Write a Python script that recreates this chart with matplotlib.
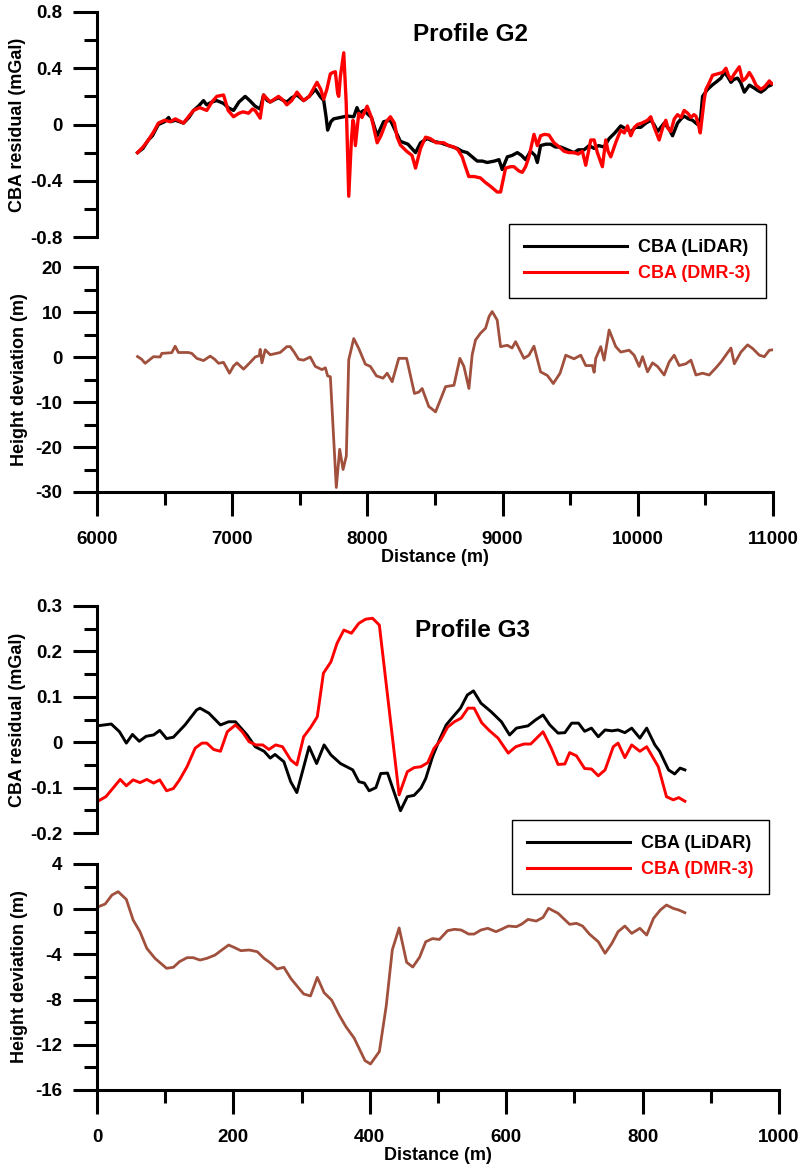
import matplotlib
matplotlib.use("Agg")
import matplotlib.pyplot as plt
from matplotlib.lines import Line2D
from matplotlib.ticker import MultipleLocator, FormatStrFormatter

plt.rcParams['font.family'] = ['Liberation Sans', 'DejaVu Sans']
plt.rcParams['font.weight'] = 'bold'
plt.rcParams['axes.unicode_minus'] = False

# ---- Profile G2 ----
g2_lidar_x = [6300, 6340, 6380, 6410, 6454, 6500, 6530, 6545, 6580, 6640, 6680, 6714, 6750, 6788,
              6810, 6850, 6886, 6936, 6970, 7010, 7050, 7096, 7130, 7170, 7207, 7232, 7260, 7281,
              7320, 7343, 7380, 7404, 7440, 7479, 7528, 7570, 7615, 7650, 7677, 7695, 7706, 7730,
              7750, 7800, 7850, 7899, 7923, 7940, 7973, 8030, 8072, 8120, 8170, 8200, 8244, 8300,
              8356, 8393, 8442, 8490, 8540, 8600, 8664, 8700, 8738, 8775, 8812, 8850, 8886, 8940,
              8973, 8997, 9035, 9070, 9109, 9140, 9170, 9207, 9240, 9257, 9281, 9320, 9355, 9390,
              9430, 9480, 9528, 9560, 9602, 9640, 9677, 9710, 9751, 9788, 9830, 9874, 9910, 9948,
              9985, 10022, 10060, 10096, 10120, 10146, 10170, 10195, 10230, 10257, 10294, 10320,
              10343, 10375, 10405, 10442, 10465, 10479, 10516, 10550, 10590, 10615, 10640, 10665,
              10689, 10710, 10738, 10760, 10788, 10810, 10825, 10860, 10890, 10911, 10940, 10960,
              10985, 11000]
g2_lidar_y = [-0.20, -0.17, -0.11, -0.08, 0.00, 0.02, 0.05, 0.02, 0.03, 0.01, 0.05, 0.10, 0.13, 0.17,
              0.14, 0.16, 0.17, 0.15, 0.12, 0.10, 0.16, 0.20, 0.17, 0.13, 0.11, 0.21, 0.17, 0.16,
              0.18, 0.19, 0.17, 0.16, 0.19, 0.21, 0.17, 0.20, 0.25, 0.20, 0.17, 0.05, -0.04, 0.02,
              0.04, 0.05, 0.06, 0.055, 0.12, 0.08, 0.10, 0.05, -0.08, 0.02, 0.03, -0.03, -0.12, -0.14,
              -0.20, -0.13, -0.10, -0.12, -0.13, -0.15, -0.17, -0.19, -0.20, -0.23, -0.26, -0.26, -0.27, -0.26,
              -0.25, -0.32, -0.23, -0.22, -0.20, -0.22, -0.25, -0.19, -0.22, -0.27, -0.15, -0.14, -0.14, -0.16,
              -0.16, -0.18, -0.20, -0.18, -0.18, -0.15, -0.17, -0.15, -0.16, -0.10, -0.06, -0.01, -0.03, -0.05,
              -0.02, -0.02, 0.01, 0.03, 0.00, -0.05, -0.02, 0.01, -0.03, -0.08, 0.01, 0.04,
              0.06, 0.04, 0.03, 0.00, 0.05, 0.20, 0.25, 0.28, 0.31, 0.33, 0.37, 0.34,
              0.30, 0.32, 0.33, 0.30, 0.23, 0.26, 0.28, 0.26, 0.24, 0.23, 0.25, 0.27,
              0.28, 0.29]

g2_dmr_x = [6300, 6340, 6380, 6420, 6454, 6500, 6541, 6580, 6640, 6680, 6714, 6760, 6812, 6850,
            6886, 6936, 6970, 7010, 7050, 7080, 7121, 7150, 7170, 7207, 7232, 7281, 7343, 7380,
            7404, 7440, 7479, 7528, 7570, 7627, 7655, 7677, 7700, 7726, 7745, 7763, 7780, 7788,
            7800, 7825, 7843, 7862, 7881, 7893, 7899, 7911, 7936, 7960, 7998, 8030, 8072, 8100,
            8140, 8170, 8200, 8220, 8244, 8290, 8330, 8356, 8393, 8430, 8465, 8509, 8565, 8600,
            8640, 8670, 8701, 8725, 8750, 8790, 8836, 8870, 8911, 8960, 8985, 9022, 9060, 9084,
            9120, 9146, 9170, 9195, 9232, 9257, 9281, 9310, 9343, 9380, 9420, 9454, 9490, 9528,
            9560, 9590, 9615, 9652, 9677, 9701, 9738, 9763, 9780, 9800, 9840, 9874, 9900, 9924,
            9948, 9975, 9998, 10030, 10072, 10096, 10121, 10158, 10185, 10207, 10225, 10244, 10270,
            10294, 10320, 10343, 10370, 10393, 10415, 10430, 10448, 10462, 10491, 10504, 10530,
            10553, 10590, 10627, 10652, 10670, 10689, 10714, 10751, 10775, 10800, 10825, 10850,
            10874, 10911, 10940, 10973, 10990, 11000]
g2_dmr_y = [-0.20, -0.16, -0.11, -0.05, 0.01, 0.03, 0.02, 0.04, 0.01, 0.06, 0.10, 0.12, 0.10, 0.16,
            0.20, 0.21, 0.10, 0.055, 0.08, 0.09, 0.08, 0.11, 0.10, 0.045, 0.21, 0.16, 0.20, 0.17,
            0.14, 0.17, 0.23, 0.17, 0.20, 0.30, 0.25, 0.18, 0.25, 0.36, 0.37, 0.375, 0.22, 0.20,
            0.34, 0.51, 0.16, -0.51, -0.12, 0.03, 0.01, -0.15, 0.08, 0.05, 0.13, 0.05, -0.13, -0.08,
            0.02, 0.055, 0.01, -0.09, -0.146, -0.19, -0.22, -0.31, -0.17, -0.09, -0.10, -0.13, -0.13, -0.15,
            -0.16, -0.18, -0.23, -0.30, -0.37, -0.37, -0.38, -0.41, -0.44, -0.48, -0.48, -0.31, -0.30, -0.30,
            -0.33, -0.34, -0.30, -0.23, -0.07, -0.15, -0.08, -0.07, -0.075, -0.13, -0.16, -0.19, -0.20, -0.20,
            -0.21, -0.19, -0.29, -0.11, -0.11, -0.20, -0.30, -0.11, -0.19, -0.23, -0.12, -0.04, -0.06, -0.01,
            -0.08, -0.02, 0.00, 0.01, 0.03, 0.055, -0.02, -0.11, -0.02, 0.03, -0.03, -0.05, 0.04,
            0.07, 0.05, 0.10, 0.08, 0.05, 0.07, 0.06, 0.00, -0.06, 0.175, 0.25, 0.30,
            0.35, 0.36, 0.37, 0.40, 0.35, 0.32, 0.36, 0.41, 0.31, 0.33, 0.37, 0.33,
            0.28, 0.25, 0.27, 0.31, 0.29, 0.29]

g2_height_x = [6300, 6330, 6356, 6390, 6417, 6467, 6479, 6553, 6578, 6602, 6676, 6701, 6738, 6788,
               6837, 6870, 6899, 6936, 6960, 6980, 7010, 7035, 7084, 7133, 7170, 7200, 7207, 7220,
               7244, 7281, 7355, 7404, 7429, 7460, 7491, 7528, 7577, 7615, 7664, 7689, 7706, 7726,
               7770, 7795, 7820, 7844, 7862, 7899, 7936, 7985, 8022, 8067, 8116, 8146, 8183, 8232,
               8290, 8348, 8380, 8405, 8454, 8480, 8504, 8540, 8578, 8615, 8640, 8684, 8714, 8751,
               8775, 8800, 8837, 8874, 8900, 8923, 8960, 8985, 9035, 9070, 9096, 9158, 9195, 9232,
               9281, 9331, 9375, 9425, 9467, 9528, 9578, 9615, 9664, 9677, 9689, 9726, 9751, 9788,
               9837, 9874, 9936, 9973, 10010, 10035, 10072, 10109, 10146, 10195, 10232, 10269, 10306,
               10356, 10393, 10430, 10479, 10528, 10578, 10615, 10689, 10714, 10763, 10812, 10849,
               10899, 10936, 10973, 11000]
g2_height_y = [0.1, -0.5, -1.4, -0.6, 0.07, 0.0, 0.8, 0.96, 2.4, 1.0, 1.0, 0.8, -0.3, -0.8,
               0.2, -0.5, -1.4, -1.2, -2.5, -3.6, -2.0, -1.3, -2.7, -1.2, 0.0, 0.3, 1.7, -1.3,
               1.6, 0.5, 1.0, 2.3, 2.3, 1.0, -0.5, -0.7, 0.0, -2.1, -2.8, -2.4, -4.2, -4.4,
               -29.0, -20.5, -25.0, -22.0, -0.6, 4.1, 1.9, -1.6, -2.1, -4.2, -4.7, -3.6, -5.5, -0.3,
               -0.3, -8.1, -7.8, -7.0, -11.0, -11.6, -12.2, -9.5, -6.6, -6.4, -6.3, -0.3, -2.1, -7.0,
               0.5, 3.8, 5.3, 6.4, 9.0, 10.1, 8.2, 2.3, 2.6, 2.0, 3.4, -0.3, 0.4, 2.4,
               -3.3, -4.1, -5.9, -3.6, 0.4, -0.4, 0.4, -1.9, -1.9, -3.4, -0.3, 2.3, -0.7, 6.0,
               2.3, 1.1, 1.5, 0.4, -2.1, 0.07, -3.3, -1.3, -2.1, -4.0, -1.1, 0.4, -1.9,
               -1.5, -0.7, -4.0, -3.6, -4.0, -2.4, -1.1, 2.0, -1.5, 1.1, 2.7, 1.9,
               0.4, 0.07, 1.5, 1.6]

# ---- Profile G3 ----
g3_lidar_x = [0, 21, 33, 43, 52, 62, 72, 83, 92, 102, 112, 129, 146, 151, 164, 181, 193, 203, 220,
              232, 245, 254, 261, 274, 284, 293, 311, 322, 333, 343, 357, 375, 384, 392, 399, 409,
              416, 426, 445, 455, 465, 475, 482, 492, 502, 512, 522, 533, 543, 552, 563, 578, 593,
              605, 615, 625, 632, 643, 654, 664, 676, 686, 696, 706, 715, 725, 735, 745, 755, 764,
              774, 784, 796, 806, 818, 825, 838, 847, 855, 862]
g3_lidar_y = [0.036, 0.04, 0.023, -0.002, 0.017, 0.002, 0.013, 0.016, 0.026, 0.008, 0.011, 0.038, 0.071,
              0.075, 0.064, 0.038, 0.045, 0.045, 0.016, -0.01, -0.02, -0.035, -0.027, -0.043, -0.087,
              -0.111, -0.01, -0.047, -0.006, -0.028, -0.047, -0.061, -0.087, -0.09, -0.107, -0.10,
              -0.069, -0.068, -0.151, -0.12, -0.117, -0.101, -0.08, -0.032, 0.005, 0.038, 0.056, 0.075,
              0.104, 0.113, 0.086, 0.067, 0.045, 0.016, 0.031, 0.034, 0.036, 0.049, 0.06, 0.038, 0.02,
              0.021, 0.042, 0.042, 0.024, 0.031, 0.012, 0.027, 0.025, 0.027, 0.021, 0.031, 0.009,
              0.031, -0.006, -0.02, -0.061, -0.07, -0.057, -0.061]

g3_dmr_x = [0, 13, 23, 34, 43, 53, 63, 73, 83, 92, 102, 112, 121, 132, 144, 154, 161, 171, 181, 191,
            203, 213, 223, 233, 243, 252, 262, 272, 284, 293, 303, 313, 323, 332, 343, 352, 362, 373,
            384, 394, 404, 414, 443, 455, 465, 475, 485, 494, 504, 514, 524, 534, 544, 553, 564, 575,
            588, 603, 614, 626, 636, 654, 666, 676, 686, 693, 703, 715, 725, 735, 745, 757, 764, 774,
            784, 796, 806, 823, 835, 845, 853, 862]
g3_dmr_y = [-0.131, -0.12, -0.102, -0.082, -0.096, -0.083, -0.089, -0.082, -0.09, -0.083, -0.107, -0.102,
            -0.083, -0.054, -0.013, -0.002, -0.002, -0.016, -0.02, 0.023, 0.038, 0.023, 0.001, -0.006,
            -0.006, -0.016, -0.006, -0.01, -0.039, -0.05, 0.012, 0.032, 0.056, 0.152, 0.177, 0.218,
            0.247, 0.24, 0.262, 0.271, 0.273, 0.258, -0.116, -0.065, -0.056, -0.054, -0.045, -0.014,
            0.005, 0.033, 0.045, 0.053, 0.075, 0.075, 0.043, 0.026, 0.009, -0.024, -0.01, -0.004,
            -0.004, 0.023, -0.013, -0.049, -0.048, -0.023, -0.03, -0.058, -0.059, -0.074, -0.061, -0.01,
            -0.002, -0.034, -0.006, -0.02, -0.01, -0.054, -0.12, -0.127, -0.122, -0.13]

g3_height_x = [0, 12, 22, 31, 43, 53, 63, 73, 85, 102, 112, 121, 132, 141, 151, 161, 173, 183, 193,
               201, 211, 223, 235, 245, 255, 264, 274, 284, 294, 303, 313, 323, 333, 344, 355, 365,
               377, 393, 401, 414, 424, 433, 443, 454, 463, 473, 482, 492, 502, 514, 524, 534, 545,
               553, 563, 573, 585, 593, 603, 615, 623, 632, 644, 654, 662, 676, 693, 703, 712, 722,
               735, 745, 755, 764, 774, 784, 796, 806, 816, 826, 835, 845, 853, 862]
g3_height_y = [0.17, 0.46, 1.26, 1.55, 0.87, -0.96, -1.99, -3.46, -4.35, -5.23, -5.14, -4.64, -4.29, -4.29,
               -4.5, -4.35, -4.06, -3.61, -3.17, -3.38, -3.67, -3.61, -3.76, -4.35, -4.79, -5.29, -5.14,
               -6.11, -6.85, -7.5, -7.68, -6.03, -7.39, -8.04, -9.36, -10.4, -11.4, -13.4, -13.7, -12.6,
               -8.6, -3.6, -1.66, -4.7, -5.12, -4.25, -2.88, -2.6, -2.68, -1.9, -1.78, -1.84, -2.2,
               -2.2, -1.84, -1.69, -1.99, -1.78, -1.49, -1.55, -1.31, -0.9, -1.05, -0.73, 0.08, -0.36,
               -1.34, -1.25, -1.49, -2.2, -2.88, -3.9, -3.02, -1.99, -1.49, -2.14, -1.69, -2.29, -0.81,
               -0.07, 0.37, 0.07, -0.07, -0.31]

brown = '#A0503C'
W, H = 802, 1168


def add_axes(fig, x0, x1, y0, y1):
    return fig.add_axes([x0 / W, 1 - y1 / H, (x1 - x0) / W, (y1 - y0) / H])


def style(ax, xmaj, xmin, ymaj, ymin, show_x):
    for s in ['top', 'right']:
        ax.spines[s].set_visible(False)
    for s in ['left', 'bottom']:
        ax.spines[s].set_linewidth(2.2)
    ax.xaxis.set_major_locator(MultipleLocator(xmaj))
    ax.xaxis.set_minor_locator(MultipleLocator(xmin))
    ax.yaxis.set_major_locator(MultipleLocator(ymaj))
    ax.yaxis.set_minor_locator(MultipleLocator(ymin))
    ax.yaxis.set_major_formatter(FormatStrFormatter('%g'))
    ax.xaxis.set_major_formatter(FormatStrFormatter('%g'))
    ax.tick_params(which='major', length=17, width=2.2, labelsize=13.5)
    ax.tick_params(which='minor', length=9.5, width=2.2)
    ax.tick_params(axis='y', which='major', pad=8)
    ax.tick_params(axis='x', which='major', pad=11)
    if not show_x:
        ax.spines['bottom'].set_visible(False)
        ax.tick_params(axis='x', which='both', bottom=False, labelbottom=False)
    ax.patch.set_visible(False)


fig = plt.figure(figsize=(W / 100, H / 100), dpi=100)

# G2 residual
ax1 = add_axes(fig, 97, 773, 12, 237)
ax1.plot(g2_lidar_x, g2_lidar_y, color='black', lw=2.4)
ax1.plot(g2_dmr_x, g2_dmr_y, color='red', lw=2.4)
ax1.set_xlim(6000, 11000)
ax1.set_ylim(-0.8, 0.8)
style(ax1, 1000, 500, 0.4, 0.2, False)
ax1.set_ylabel('CBA residual (mGal)', fontsize=13, fontweight='bold', va='center')
ax1.yaxis.set_label_coords((18 - 97) / 676, 0.5)
ax1.text(0.552, 0.898, 'Profile G2', transform=ax1.transAxes, ha='center', va='center',
         fontsize=17.5, fontweight='bold')

# G2 height deviation
ax2 = add_axes(fig, 97, 773, 267, 492)
ax2.plot(g2_height_x, g2_height_y, color=brown, lw=2.0)
ax2.set_xlim(6000, 11000)
ax2.set_ylim(-30, 20)
style(ax2, 1000, 500, 10, 5, True)
ax2.set_ylabel('Height deviation (m)', fontsize=13, fontweight='bold', va='center')
ax2.yaxis.set_label_coords((20 - 97) / 676, 0.5)
ax2.set_xlabel('Distance (m)', fontsize=13, fontweight='bold', labelpad=1)

# G3 residual
ax3 = add_axes(fig, 97, 779, 606, 833)
ax3.plot(g3_lidar_x, g3_lidar_y, color='black', lw=2.1)
ax3.plot(g3_dmr_x, g3_dmr_y, color='red', lw=2.1)
ax3.set_xlim(0, 1000)
ax3.set_ylim(-0.2, 0.3)
style(ax3, 200, 100, 0.1, 0.05, False)
ax3.set_ylabel('CBA residual (mGal)', fontsize=13, fontweight='bold', va='center')
ax3.yaxis.set_label_coords((18 - 97) / 682, 0.5)
ax3.text(0.551, 0.894, 'Profile G3', transform=ax3.transAxes, ha='center', va='center',
         fontsize=17.5, fontweight='bold')

# G3 height deviation
ax4 = add_axes(fig, 97, 779, 864, 1090)
ax4.plot(g3_height_x, g3_height_y, color=brown, lw=2.0)
ax4.set_xlim(0, 1000)
ax4.set_ylim(-16, 4)
style(ax4, 200, 100, 4, 2, True)
ax4.set_ylabel('Height deviation (m)', fontsize=13, fontweight='bold', va='center')
ax4.yaxis.set_label_coords((20 - 97) / 682, 0.5)
ax4.set_xlabel('Distance (m)', fontsize=13, fontweight='bold', labelpad=1)

legend_labels = ['CBA (LiDAR)', 'CBA (DMR-3)']
legend_colors = ['black', 'red']
for left, top in [(509, 224), (512, 820)]:
    handles = [Line2D([], [], color=c, lw=2.2) for c in legend_colors]
    leg = fig.legend(handles, legend_labels, loc='upper left',
                     bbox_to_anchor=(left / W, 1 - top / H), borderaxespad=0,
                     frameon=True, fancybox=False, framealpha=1, edgecolor='black',
                     handlelength=5.7, handletextpad=0.6, borderpad=0.85,
                     labelspacing=0.5, prop={'weight': 'bold', 'size': 13})
    leg.get_frame().set_linewidth(1.0)
    for t, c in zip(leg.get_texts(), legend_colors):
        t.set_color(c)

fig.savefig('out.png', dpi=100)
